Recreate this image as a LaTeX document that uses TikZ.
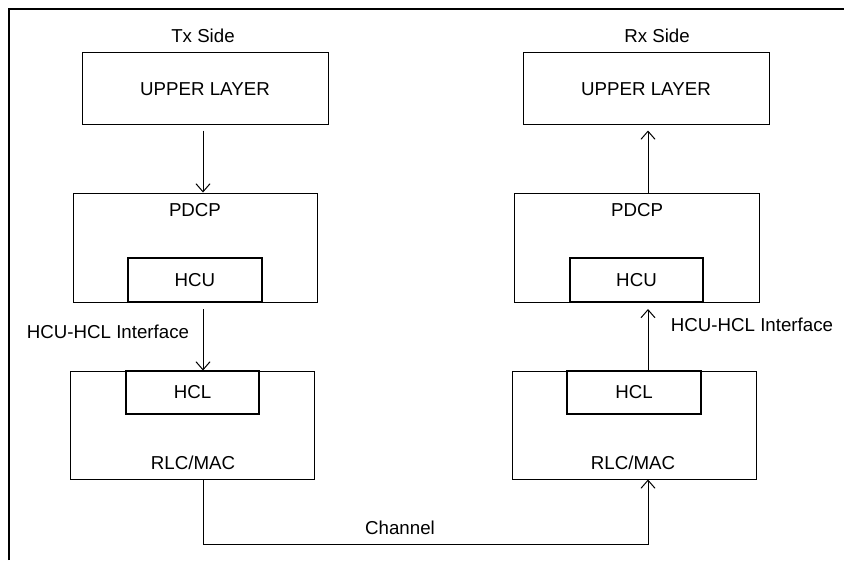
\documentclass[tikz,border=0pt]{standalone}
\usepackage{fontspec}
\setmainfont{Liberation Sans}
\usetikzlibrary{arrows.meta}
\begin{document}
\begin{tikzpicture}[x=1pt,y=-1pt,
  outerbox/.style={draw=black, line width=1pt, inner sep=0pt, rectangle},
  upbox/.style={draw=black, line width=1pt, inner sep=0pt, rectangle},
  innerbox/.style={draw=black, line width=2pt, inner sep=0pt, rectangle, fill=white},
  txt/.style={inner sep=0pt, font=\fontsize{18.7}{22}\selectfont},
  conn/.style={line width=1pt, -{Straight Barb[length=8pt,width=14pt,line width=1pt]}},
  plain/.style={line width=1pt}]
\useasboundingbox (0,0) rectangle (844,560);
% frame (left and top only)
\draw[line width=2.5pt] (9,560) -- (9,9) -- (844,9);

% ---- Tx side
\node[txt] (txside) at (203,36) {Tx Side};
\node[upbox, minimum width=246pt, minimum height=72pt] (txup) at (205,88) {};
\node[txt] (txupl) at (205,89) {UPPER LAYER};
\node[outerbox, minimum width=244pt, minimum height=109pt] (txpdcp) at (195,247.5) {};
\node[txt] (txpdcpl) at (195,210) {PDCP};
\node[innerbox, minimum width=134pt, minimum height=44pt] (txhcu) at (195,280) {};
\node[txt] (txhcul) at (195,280) {HCU};
\node[outerbox, minimum width=244pt, minimum height=108pt] (txrlc) at (192,425) {};
\node[txt] (txrlcl) at (193,463) {RLC/MAC};
\node[innerbox, minimum width=133pt, minimum height=43pt] (txhcl) at (192.5,392.5) {};
\node[txt] (txhcll) at (192.5,392) {HCL};
\node[txt] (txif) at (108,332) {HCU-HCL Interface};
\coordinate (txa) at (203,0);

% ---- Rx side
\node[txt] (rxside) at (657,36) {Rx Side};
\node[upbox, minimum width=246pt, minimum height=72pt] (rxup) at (646,88) {};
\node[txt] (rxupl) at (646,89) {UPPER LAYER};
\node[outerbox, minimum width=245pt, minimum height=109pt] (rxpdcp) at (636.5,247.5) {};
\node[txt] (rxpdcpl) at (637,210) {PDCP};
\node[innerbox, minimum width=133pt, minimum height=44pt] (rxhcu) at (636.5,280) {};
\node[txt] (rxhcul) at (636.5,280) {HCU};
\node[outerbox, minimum width=244pt, minimum height=108pt] (rxrlc) at (634,425) {};
\node[txt] (rxrlcl) at (633,463) {RLC/MAC};
\node[innerbox, minimum width=134pt, minimum height=43pt] (rxhcl) at (634,392.5) {};
\node[txt] (rxhcll) at (634,392) {HCL};
\node[txt] (rxif) at (752,325) {HCU-HCL Interface};
\coordinate (rxa) at (648,0);

% channel
\node[txt] (chl) at (400,528) {Channel};
\coordinate (c1) at (203,544);
\coordinate (c2) at (648,544);

% connectors
\draw[conn, shorten <=6pt] (txup.south -| txa) -- (txpdcp.north -| txa);
\draw[conn, shorten <=6pt] (txhcu.south -| txa) -- (txrlc.north -| txa);
\draw[conn, shorten >=6pt] (rxpdcp.north -| rxa) -- (rxup.south -| rxa);
\draw[conn, shorten >=6pt] (rxrlc.north -| rxa) -- (rxhcu.south -| rxa);
\draw[conn] (txrlc.south -| txa) -- (c1) -- (c2) -- (rxrlc.south -| rxa);
\end{tikzpicture}
\end{document}
